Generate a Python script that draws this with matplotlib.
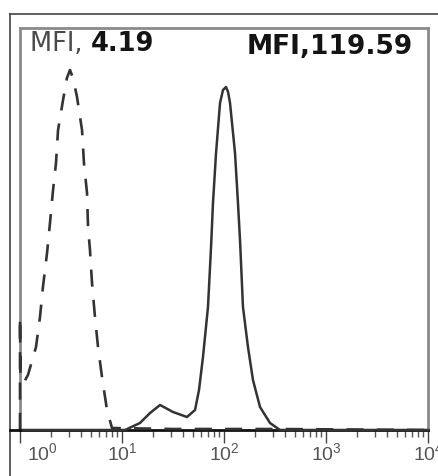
"""Flow cytometry overlay: isotype control (dashed) vs stained sample (solid)."""

import matplotlib
matplotlib.use("Agg")
import matplotlib.pyplot as plt
from matplotlib.lines import Line2D
from matplotlib.transforms import ScaledTranslation
import numpy as np

# log10 fluorescence / relative event count
control_log_fl = [0.0, 0.0, 0.005, 0.04, 0.078, 0.157, 0.196, 0.225, 0.265, 0.294,
                  0.324, 0.353, 0.373, 0.422, 0.46, 0.49, 0.52, 0.559, 0.608, 0.627,
                  0.657, 0.667, 0.686, 0.706, 0.735, 0.765, 0.804, 0.853, 0.902,
                  1.5, 2.5, 4.0]
control_count = [0, 113, 50, 48, 55, 83, 113, 143, 177, 207,
                 240, 267, 300, 330, 352, 360, 352, 333, 300, 267,
                 237, 203, 180, 147, 113, 83, 53, 20, 2,
                 1, 1, 0]

sample_log_fl = [0.0, 1.03, 1.176, 1.275, 1.373, 1.5, 1.637, 1.716, 1.755, 1.794,
                 1.843, 1.873, 1.892, 1.922, 1.961, 1.99, 2.02, 2.04, 2.059, 2.108,
                 2.137, 2.157, 2.186, 2.235, 2.284, 2.353, 2.451, 2.549, 4.0]
sample_count = [0, 0, 7, 17, 25, 18, 13, 20, 40, 73,
                123, 183, 227, 277, 327, 340, 343, 338, 327, 277,
                227, 190, 123, 83, 50, 23, 7, 0, 0]

tick_exps = [0, 1, 2, 3, 4]
mfi_control = "4.19"
mfi_sample = "119.59"

plt.rcParams["mathtext.fontset"] = "custom"
plt.rcParams["mathtext.rm"] = "Liberation Sans"
plt.rcParams["mathtext.it"] = "Liberation Sans"

W, H = 439, 476
fig = plt.figure(figsize=(W / 100, H / 100), dpi=100)
ax = fig.add_axes([20 / W, (H - 430) / H, 408 / W, 402 / H])

ax.plot(10 ** np.array(sample_log_fl), sample_count, color="#333333",
        linewidth=1.8, solid_joinstyle="round", clip_on=False, zorder=3)
ax.plot(10 ** np.array(control_log_fl), control_count, color="#333333",
        linewidth=1.9, dashes=(6.5, 5), clip_on=False, zorder=3)

ax.set_xscale("log")
ax.set_xlim(1, 1e4)
ax.set_ylim(0, 402)
ax.set_yticks([])

ax.set_xticks([10 ** e for e in tick_exps])
ax.set_xticklabels([rf"$10^{{{e}}}$" for e in tick_exps], fontsize=14,
                   color="#555555")
ax.tick_params(axis="x", which="major", direction="out", length=9, width=1,
               color="#444444", pad=0)
ax.tick_params(axis="x", which="minor", direction="out", length=5, width=1,
               color="#555555")
# first label sits clear of the frame corner
lbl0 = ax.get_xticklabels()[0]
lbl0.set_transform(lbl0.get_transform() + ScaledTranslation(0.22, 0, fig.dpi_scale_trans))

for side in ("top", "left", "right"):
    ax.spines[side].set_color("#8a8a8a")
    ax.spines[side].set_linewidth(2)
ax.spines["bottom"].set_color("#111111")
ax.spines["bottom"].set_linewidth(2)

# outer frame and the axis stub reaching it
fig.add_artist(Line2D([10 / W, 1], [1 - 14 / H, 1 - 14 / H], color="#444444", lw=1.2))
fig.add_artist(Line2D([10 / W, 10 / W], [0, 1 - 14 / H], color="#444444", lw=1.2))
fig.add_artist(Line2D([10 / W, 20 / W], [(H - 430) / H] * 2, color="#111111", lw=2))

# MFI annotations
t1 = fig.text(30 / W, (H - 51) / H, "MFI, ", fontsize=18.5, color="#4a4a4a",
              va="baseline", ha="left")
fig.canvas.draw()
w1 = t1.get_window_extent().width
fig.text((30 + w1) / W, (H - 51) / H, mfi_control, fontsize=18.5, color="#141414",
         fontweight="bold", va="baseline", ha="left")
fig.text(247 / W, (H - 54) / H, "MFI," + mfi_sample, fontsize=19, color="#141414",
         fontweight="bold", va="baseline", ha="left")

fig.savefig("out.png", dpi=100)
